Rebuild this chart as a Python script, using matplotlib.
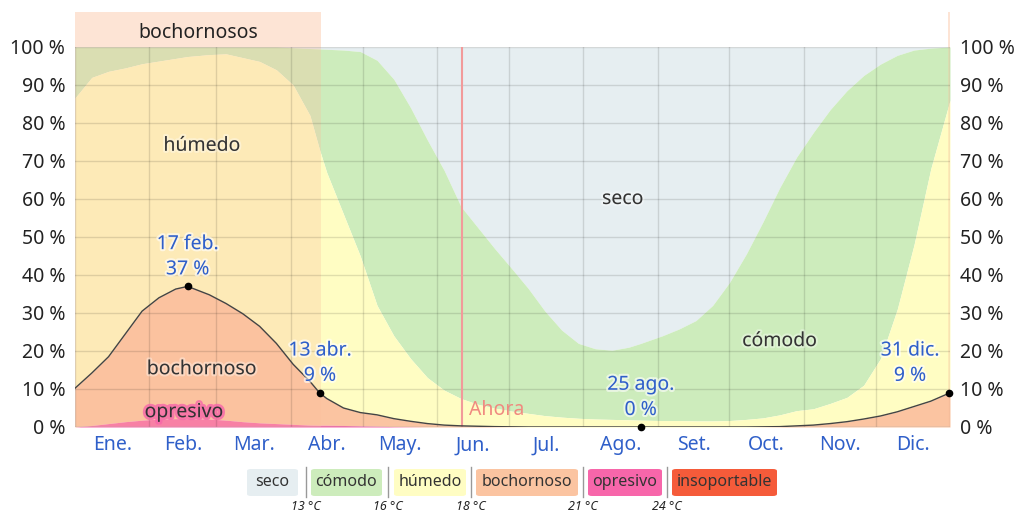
import matplotlib
matplotlib.use("Agg")
import matplotlib.pyplot as plt
import matplotlib.patheffects as pe
from matplotlib.patches import Rectangle, FancyBboxPatch
import numpy as np

plt.rcParams['font.family'] = ['Noto Sans', 'DejaVu Sans']

# ---------------- data ----------------
days = [0, 7, 14, 21, 28, 35, 42, 47, 56, 63, 70, 77, 84, 91, 98, 102, 105, 112, 119,
        126, 133, 140, 147, 154, 161, 168, 175, 182, 189, 196, 203, 210, 217, 224, 231,
        236, 245, 252, 259, 266, 273, 280, 287, 294, 301, 308, 315, 322, 329, 336, 343,
        350, 357, 365]

# cumulative upper boundaries (% of time)
opresivo_top = [0, 0.4, 0.9, 1.4, 1.8, 2.1, 2.2, 2.2, 2.1, 1.8, 1.4, 1.1, 0.9, 0.7, 0.5, 0.45,
                0.45, 0.4, 0.3, 0.2, 0.1, 0.05, 0, 0, 0, 0, 0, 0, 0, 0, 0, 0, 0, 0, 0,
                0, 0, 0, 0, 0, 0, 0, 0, 0, 0, 0, 0, 0, 0, 0, 0, 0, 0, 0]
bochornoso_top = [10.2, 14.2, 18.5, 24.5, 30.5, 34, 36.3, 37, 34.8, 32.5, 29.8, 26.5, 22, 16.5,
                  12, 9, 7.5, 5, 3.8, 3.2, 2.2, 1.5, 0.9, 0.5, 0.3, 0.2, 0.1, 0.05, 0, 0, 0,
                  0, 0, 0, 0, 0, 0, 0, 0, 0, 0, 0, 0.05, 0.1, 0.3, 0.5, 0.9, 1.4, 2.1, 2.9,
                  4.0, 5.4, 6.8, 9]
humedo_top = [86.6, 92, 93.6, 94.5, 95.6, 96.3, 97, 97.5, 98, 98.2, 97.2, 96.2, 94, 90, 82, 73,
              67, 56, 45, 32, 24, 18, 13, 9.7, 7.5, 6, 5, 4.2, 3.6, 3.0, 2.6, 2.3, 2.1, 2.0,
              1.9, 1.8, 1.7, 1.7, 1.6, 1.6, 1.7, 2.0, 2.4, 3.2, 4.3, 4.8, 6.2, 7.8, 11, 18,
              31, 48, 68, 86]
comodo_top = [100, 100, 100, 100, 100, 100, 100, 100, 100, 100, 100, 100, 100, 99.8, 99.6, 99.5,
              99.4, 99.2, 98.8, 96.5, 91.5, 84, 75.5, 67.5, 58, 52.5, 47, 41.8, 36.5, 30.5,
              25.5, 22, 20.6, 20.2, 21, 22, 24, 25.8, 28, 32, 38, 45.5, 54, 63, 71, 77.5,
              83.5, 88.5, 92.5, 95.5, 97.8, 99.2, 99.7, 100]

month_starts = [0, 31, 59, 90, 120, 151, 181, 212, 243, 273, 304, 334, 365]
month_labels = ['Ene.', 'Feb.', 'Mar.', 'Abr.', 'May.', 'Jun.', 'Jul.', 'Ago.', 'Set.',
                'Oct.', 'Nov.', 'Dic.']
yticks = [0, 10, 20, 30, 40, 50, 60, 70, 80, 90, 100]

# annotated points
ann_days = [47, 102.2, 236, 364.6]
ann_vals = [37, 9, 0, 9]
ann_texts = ['17 feb.\n37 %', '13 abr.\n9 %', '25 ago.\n0 %', '31 dic.\n9 %']

now_day = 161.5
band_start, band_end = 0, 102.5
band2_start, band2_end = 364.2, 365

legend_names = ['seco', 'cómodo', 'húmedo', 'bochornoso', 'opresivo', 'insoportable']
legend_temps = ['13 °C', '16 °C', '18 °C', '21 °C', '24 °C']

# ---------------- style ----------------
c_seco = '#e6eef1'
c_comodo = '#cdecbc'
c_humedo = '#fffdc3'
c_boch = '#fbc4a1'
c_opre = '#f766aa'
c_inso = '#f55b3a'
band_col = '#fbbf9c'
legend_cols = [c_seco, c_comodo, c_humedo, c_boch, c_opre, c_inso]
blue = '#2f5fc9'
txtc = '#222222'
FS = 14

W, H = 1017, 513
fig = plt.figure(figsize=(W / 100, H / 100), dpi=100)
ax = fig.add_axes([75 / W, 1 - 427 / H, 875 / W, 380 / H])
ax.set_xlim(0, 365)
ax.set_ylim(0, 100)

z = np.zeros(len(days))
ax.fill_between(days, comodo_top, 100, color=c_seco, lw=0, zorder=1)
ax.fill_between(days, humedo_top, comodo_top, color=c_comodo, lw=0, zorder=1)
ax.fill_between(days, bochornoso_top, humedo_top, color=c_humedo, lw=0, zorder=1)
ax.fill_between(days, opresivo_top, bochornoso_top, color=c_boch, lw=0, zorder=1)
ax.fill_between(days, z, opresivo_top, color=c_opre, lw=0, zorder=1)

# bochornosos band
for s, e in [(band_start, band_end), (band2_start, band2_end)]:
    ax.axvspan(s, e, color=band_col, alpha=0.3, lw=0, zorder=1.5)
    ax.add_patch(Rectangle((s, 1.0), e - s, 35 / 380, transform=ax.get_xaxis_transform(),
                           color=band_col, alpha=0.42, lw=0, clip_on=False, zorder=1.5))
ax.text((band_start + band_end) / 2, 1 + 14 / 380, 'bochornosos', transform=ax.get_xaxis_transform(),
        ha='center', va='center', fontsize=FS, color=txtc)

# grid & ticks
ax.set_xticks(month_starts)
ax.set_xticklabels([])
ax.set_xticks([(month_starts[i] + month_starts[i + 1]) / 2 for i in range(12)], minor=True)
ax.set_xticklabels(month_labels, minor=True)
ax.set_yticks(yticks)
ax.set_yticklabels([f'{v} %' for v in yticks])
ax.grid(True, which='major', color='#000000', alpha=0.12, lw=1)
ax.set_axisbelow(False)
ax.tick_params(axis='both', which='both', length=0)
ax.tick_params(axis='x', which='minor', labelsize=FS, labelcolor=blue, pad=6)
ax.tick_params(axis='y', labelsize=FS, labelcolor=txtc, pad=7, labelleft=True, labelright=True)
for sp in ax.spines.values():
    sp.set_visible(False)
ax.axhline(0, color='#bbbbbb', lw=1, zorder=3)

# main line
ax.plot(days, bochornoso_top, color='#444444', lw=1.0, zorder=4)

# now line
ax.axvline(now_day, color='#f29a9a', lw=1.5, zorder=3)
ax.text(now_day + 3, 4.5, 'Ahora', color='#f08a80', fontsize=FS, ha='left', va='center', zorder=5)

halo_w = [pe.withStroke(linewidth=3, foreground='white', alpha=0.6)]
halo_l = [pe.withStroke(linewidth=3, foreground='white', alpha=0.35)]

# area labels
lab_kw = dict(fontsize=FS, color='#333333', ha='center', va='center', path_effects=halo_l, zorder=5)
ax.text(53, 74, 'húmedo', **lab_kw)
ax.text(228.5, 60, 'seco', **lab_kw)
ax.text(294, 22.6, 'cómodo', **lab_kw)
ax.text(53, 15.2, 'bochornoso', **lab_kw)
ax.text(45.5, 3.9, 'opresivo', fontsize=FS, color='#333333', ha='center', va='center',
        path_effects=[pe.withStroke(linewidth=4, foreground=c_opre, alpha=0.8)], zorder=5)

# annotations
offsets = [(0, 7), (0, 7), (0, 7), (-39, 7)]
for d, v, t, off in zip(ann_days, ann_vals, ann_texts, offsets):
    ax.plot([d], [v], 'o', color='black', ms=4.5, zorder=6, clip_on=False)
    ax.annotate(t, xy=(d, v), xytext=off, textcoords='offset pixels', ha='center', va='bottom',
                fontsize=FS, color=blue, linespacing=1.35, path_effects=halo_w, zorder=6)

# legend
def fx(x):
    return x / W

def fy(y):
    return 1 - y / H

box_x = [(247, 298), (311, 382), (394, 466), (476, 578), (588, 662), (672, 777)]
for (x0, x1), name, col in zip(box_x, legend_names, legend_cols):
    fig.patches.append(FancyBboxPatch((fx(x0), fy(496)), fx(x1 - x0), 27 / H,
                                      boxstyle='round,pad=0,rounding_size=0.004',
                                      transform=fig.transFigure, facecolor=col, edgecolor='none'))
    fig.text(fx((x0 + x1) / 2), fy(482.5), name, ha='center', va='center', fontsize=11.5, color='#333333')

seps = [306, 388, 471, 583, 667]
for sx, tl in zip(seps, legend_temps):
    fig.lines.append(plt.Line2D([fx(sx), fx(sx)], [fy(467), fy(497)], transform=fig.transFigure,
                                color='#999999', lw=1))
    fig.text(fx(sx), fy(507), tl, ha='center', va='center', fontsize=9, style='italic', color='#222222')

fig.savefig('out.png', dpi=100)
